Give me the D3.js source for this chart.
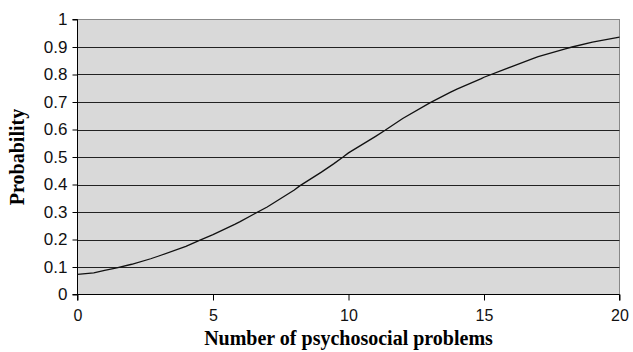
<!DOCTYPE html>
<html>
<head>
<meta charset="utf-8">
<script src="https://cdn.jsdelivr.net/npm/d3@7"></script>
<style>
  body { margin: 0; background: #fff; }
</style>
</head>
<body>
<script>
// values
var problems = [0, 0.6, 1, 1.45, 2, 2.7, 3, 4, 4.5, 5, 5.8, 6, 6.5, 7, 8, 8.2, 9, 9.45, 9.8, 10, 11, 11.35, 12, 13, 13.75, 14, 14.9, 15, 16, 16.8, 17, 18, 18.25, 19, 20];
var probability = [0.073, 0.079, 0.088, 0.097, 0.11, 0.13, 0.14, 0.175, 0.197, 0.218, 0.255, 0.265, 0.292, 0.318, 0.38, 0.395, 0.445, 0.475, 0.5, 0.515, 0.575, 0.597, 0.64, 0.697, 0.735, 0.747, 0.785, 0.79, 0.828, 0.858, 0.865, 0.893, 0.9, 0.918, 0.936];
var xTicks = [0, 5, 10, 15, 20];
var yTicks = [0, 0.1, 0.2, 0.3, 0.4, 0.5, 0.6, 0.7, 0.8, 0.9, 1];

var width = 633, height = 352;
var plotLeft = 77.5, plotRight = 619.5, plotTop = 19.5, plotBottom = 294.5;

var svg = d3.select('body').append('svg')
    .attr('width', width)
    .attr('height', height);

var xScale = d3.scaleLinear().domain([0, 20]).range([plotLeft, plotRight]);
var yScale = d3.scaleLinear().domain([0, 1]).range([plotBottom, plotTop]);

// plot background
svg.append('rect')
    .attr('x', plotLeft).attr('y', plotTop)
    .attr('width', plotRight - plotLeft).attr('height', plotBottom - plotTop)
    .attr('fill', '#d9d9d9')
    .attr('stroke', '#888');

// gridlines
svg.append('g').selectAll('line')
    .data(yTicks.slice(1, -1))
    .enter().append('line')
    .attr('x1', plotLeft).attr('x2', plotRight)
    .attr('y1', function(d) { return Math.round(yScale(d)) + 0.5; })
    .attr('y2', function(d) { return Math.round(yScale(d)) + 0.5; })
    .attr('stroke', '#222');

// axes
var yAxis = d3.axisLeft(yScale).tickValues(yTicks).tickSize(5).tickPadding(5)
    .tickFormat(function(d) { return d3.format('~g')(d); });
var xAxis = d3.axisBottom(xScale).tickValues(xTicks).tickSize(6).tickPadding(9);

var gy = svg.append('g').attr('transform', 'translate(' + plotLeft + ',0)').call(yAxis);
var gx = svg.append('g').attr('transform', 'translate(0,' + plotBottom + ')').call(xAxis);

[gx, gy].forEach(function(g) {
    g.select('.domain').attr('stroke', '#000');
    g.selectAll('.tick line').attr('stroke', '#000');
    g.selectAll('text')
        .attr('fill', '#111')
        .style('font-family', 'Liberation Sans, Arial, sans-serif')
        .style('font-size', '17px');
});
gx.selectAll('text').style('font-size', '16px');
gx.select('.domain').attr('d', 'M' + plotLeft + ',6V0H' + plotRight + 'V6');
gy.select('.domain').attr('d', 'M-5,' + plotTop + 'H0V' + plotBottom + 'H-5');

// curve
var line = d3.line()
    .x(function(d, i) { return xScale(problems[i]); })
    .y(function(d) { return yScale(d); });

svg.append('path')
    .datum(probability)
    .attr('d', line)
    .attr('fill', 'none')
    .attr('stroke', '#111')
    .attr('stroke-width', 1.3);

// titles
svg.append('text')
    .attr('x', (plotLeft + plotRight) / 2)
    .attr('y', 345)
    .attr('text-anchor', 'middle')
    .style('font-family', 'Liberation Serif, Times New Roman, serif')
    .style('font-weight', 'bold')
    .style('font-size', '20px')
    .text('Number of psychosocial problems');

svg.append('text')
    .attr('transform', 'translate(24,' + (plotTop + plotBottom) / 2 + ') rotate(-90)')
    .attr('text-anchor', 'middle')
    .style('font-family', 'Liberation Serif, Times New Roman, serif')
    .style('font-weight', 'bold')
    .style('font-size', '20px')
    .text('Probability');
</script>
</body>
</html>
